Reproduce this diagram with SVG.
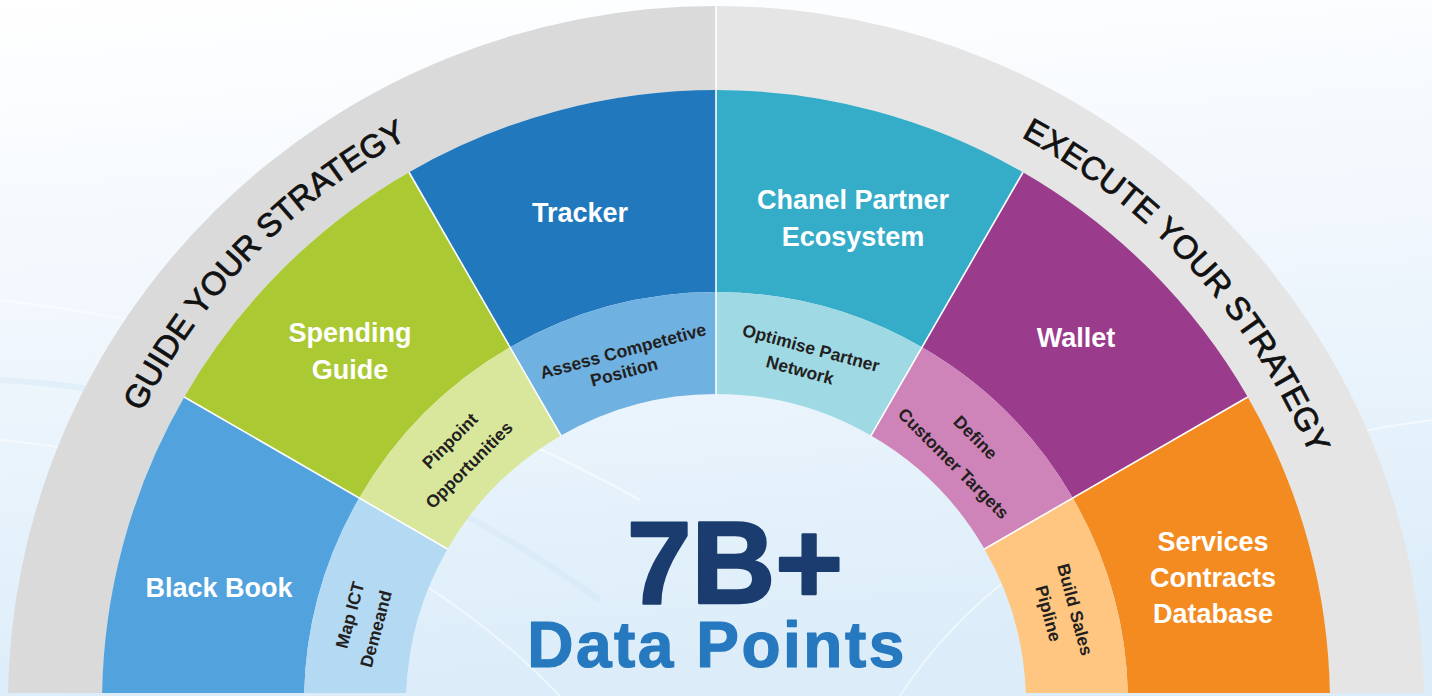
<svg xmlns="http://www.w3.org/2000/svg" width="1432" height="696" viewBox="0 0 1432 696">
  <defs>
    <linearGradient id="bg" x1="0" y1="0" x2="0.15" y2="1">
      <stop offset="0" stop-color="#ffffff"/>
      <stop offset="0.45" stop-color="#f1f7fd"/>
      <stop offset="1" stop-color="#dcedf9"/>
    </linearGradient>
    <clipPath id="cut">
      <rect x="0" y="0" width="1432" height="693"/>
    </clipPath>
    <path id="guidePath" d="M72,704 A644,644 0 0 1 716,60"/>
    <path id="execPath" d="M716,60 A644,644 0 0 1 1360,704"/>
  </defs>
  <style>
    .outer { font-family: "Liberation Sans", Arial, sans-serif; font-weight: 700; font-size: 27px; fill: #ffffff; text-anchor: middle; }
    .inner { font-family: "Liberation Sans", Arial, sans-serif; font-weight: 700; font-size: 17.5px; fill: #231f20; text-anchor: middle; }
    .arc { font-family: "Liberation Sans", Arial, sans-serif; font-weight: 400; font-size: 32.5px; fill: #111111; stroke: #111111; stroke-width: 0.8; }
    .div { stroke: #ffffff; stroke-width: 1.6; fill: none; }
  </style>

  <!-- background -->
  <rect x="0" y="0" width="1432" height="696" fill="url(#bg)"/>
  <g fill="none" stroke="#ffffff" stroke-opacity="0.5">
    <path d="M0,300 C250,330 460,400 640,500" stroke-width="2.5"/>
    <path d="M0,380 C200,390 420,470 600,600" stroke-width="6" stroke="#cfe5f5" stroke-opacity="0.4"/>
    <path d="M0,440 C220,460 430,560 560,696" stroke-width="2"/>
    <path d="M1432,420 C1200,450 1000,540 900,696" stroke-width="2"/>
  </g>

  <g clip-path="url(#cut)">
    <!-- gray outer band -->
    <g id="band-guide">
      <path d="M8,704 A708,698 0 0 1 716,6 L716,90 A614,614 0 0 0 102,704 Z" fill="#dadada"/>
      <text class="arc"><textPath href="#guidePath" startOffset="302.7">GUIDE</textPath></text>
      <text class="arc"><textPath href="#guidePath" startOffset="414.6">YOUR</textPath></text>
      <text class="arc"><textPath href="#guidePath" startOffset="517.5">STRATEGY</textPath></text>
    </g>
    <g id="band-execute">
      <path d="M716,6 A708,698 0 0 1 1424,704 L1330,704 A614,614 0 0 0 716,90 Z" fill="#e5e5e5"/>
      <text class="arc"><textPath href="#execPath" startOffset="317.9">EXECUTE</textPath></text>
      <text class="arc"><textPath href="#execPath" startOffset="480.4">YOUR</textPath></text>
      <text class="arc"><textPath href="#execPath" startOffset="583.3">STRATEGY</textPath></text>
    </g>

    <!-- outer segments -->
    <g id="black-book">
      <path d="M102,704 A614,614 0 0 1 184.26,397 L359.2,498 A412,412 0 0 0 304,704 Z" fill="#52a2dd"/>
      <text class="outer" x="219" y="597">Black Book</text>
    </g>
    <g id="spending-guide">
      <path d="M184.26,397 A614,614 0 0 1 409,172.26 L510,347.2 A412,412 0 0 0 359.2,498 Z" fill="#abc932"/>
      <text class="outer" x="350" y="342">Spending</text>
      <text class="outer" x="350" y="379">Guide</text>
    </g>
    <g id="tracker">
      <path d="M409,172.26 A614,614 0 0 1 716,90 L716,292 A412,412 0 0 0 510,347.2 Z" fill="#2278bd"/>
      <text class="outer" x="580" y="222">Tracker</text>
    </g>
    <g id="chanel-partner">
      <path d="M716,90 A614,614 0 0 1 1023,172.26 L922,347.2 A412,412 0 0 0 716,292 Z" fill="#35adc8"/>
      <text class="outer" x="853" y="209">Chanel Partner</text>
      <text class="outer" x="853" y="246">Ecosystem</text>
    </g>
    <g id="wallet">
      <path d="M1023,172.26 A614,614 0 0 1 1247.74,397 L1072.8,498 A412,412 0 0 0 922,347.2 Z" fill="#9a3b8c"/>
      <text class="outer" x="1076" y="347">Wallet</text>
    </g>
    <g id="services-contracts">
      <path d="M1247.74,397 A614,614 0 0 1 1330,704 L1128,704 A412,412 0 0 0 1072.8,498 Z" fill="#f48b21"/>
      <text class="outer" x="1213" y="551">Services</text>
      <text class="outer" x="1213" y="587">Contracts</text>
      <text class="outer" x="1213" y="623">Database</text>
    </g>

    <!-- inner ring -->
    <g id="map-ict">
      <path d="M304,704 A412,412 0 0 1 359.2,498 L447.53,549 A310,310 0 0 0 406,704 Z" fill="#b3d9f3"/>
      <text class="inner" transform="translate(350,615) rotate(-75)" y="6">Map ICT</text>
      <text class="inner" transform="translate(376,629) rotate(-75)" y="6">Demeand</text>
    </g>
    <g id="pinpoint">
      <path d="M359.2,498 A412,412 0 0 1 510,347.2 L561,435.53 A310,310 0 0 0 447.53,549 Z" fill="#d9e79d"/>
      <text class="inner" transform="translate(450,441) rotate(-45)" y="6">Pinpoint</text>
      <text class="inner" transform="translate(469,465) rotate(-45)" y="6">Opportunities</text>
    </g>
    <g id="assess">
      <path d="M510,347.2 A412,412 0 0 1 716,292 L716,394 A310,310 0 0 0 561,435.53 Z" fill="#6fb1e1"/>
      <text class="inner" transform="translate(623,351) rotate(-15)" y="6">Assess Competetive</text>
      <text class="inner" transform="translate(624,372) rotate(-15)" y="6">Position</text>
    </g>
    <g id="optimise">
      <path d="M716,292 A412,412 0 0 1 922,347.2 L871,435.53 A310,310 0 0 0 716,394 Z" fill="#9fd9e4"/>
      <text class="inner" transform="translate(811,348) rotate(15)" y="6">Optimise Partner</text>
      <text class="inner" transform="translate(800,370) rotate(15)" y="6">Network</text>
    </g>
    <g id="define">
      <path d="M922,347.2 A412,412 0 0 1 1072.8,498 L984.47,549 A310,310 0 0 0 871,435.53 Z" fill="#cf84b9"/>
      <text class="inner" transform="translate(975.5,437.5) rotate(45)" y="6">Define</text>
      <text class="inner" transform="translate(953.5,463.5) rotate(45)" y="6">Customer Targets</text>
    </g>
    <g id="build-sales">
      <path d="M1072.8,498 A412,412 0 0 1 1128,704 L1026,704 A310,310 0 0 0 984.47,549 Z" fill="#fec681"/>
      <text class="inner" transform="translate(1075,609.5) rotate(75)" y="6">Build Sales</text>
      <text class="inner" transform="translate(1048.5,613.5) rotate(75)" y="6">Pipline</text>
    </g>

    <!-- dividers -->
    <g id="dividers">
      <line class="div" x1="984.47" y1="549" x2="1247.74" y2="397"/>
      <line class="div" x1="871" y1="435.53" x2="1023" y2="172.26"/>
      <line class="div" x1="716" y1="394" x2="716" y2="2" stroke-width="2.2"/>
      <line class="div" x1="561" y1="435.53" x2="409" y2="172.26"/>
      <line class="div" x1="447.53" y1="549" x2="184.26" y2="397"/>
    </g>
  </g>

  <!-- center headline -->
  <g id="headline">
    <text x="735" y="603" font-family="Liberation Sans, Arial, sans-serif" font-weight="700" font-size="116" fill="#1b3c6f" stroke="#1b3c6f" stroke-width="2.5" stroke-linejoin="round" text-anchor="middle">7B+</text>
    <text x="717" y="667" font-family="Liberation Sans, Arial, sans-serif" font-weight="700" font-size="64" letter-spacing="2.5" fill="#2679bf" stroke="#2679bf" stroke-width="1.2" stroke-linejoin="round" text-anchor="middle">Data Points</text>
  </g>
</svg>
